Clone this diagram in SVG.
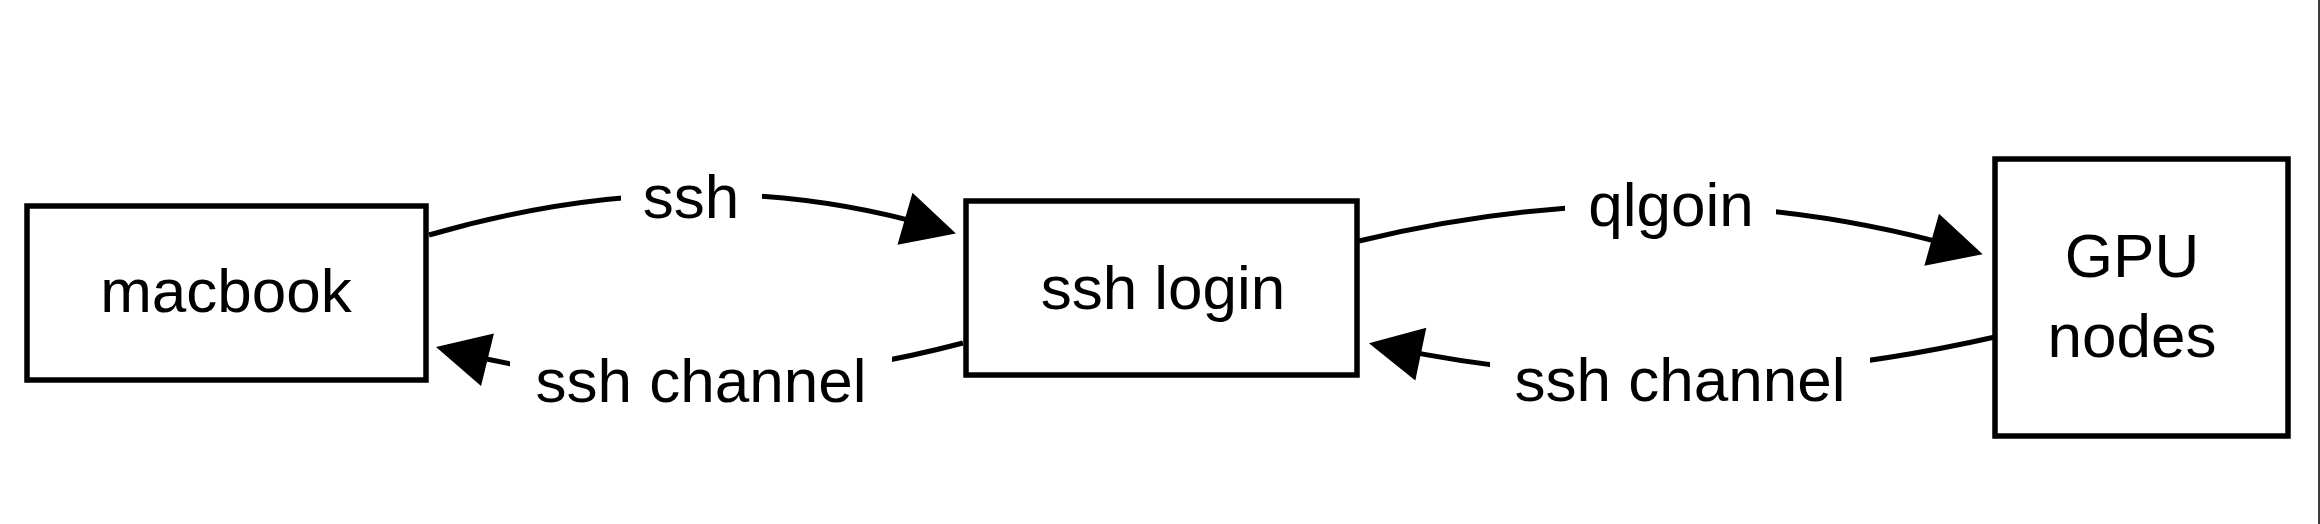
<svg xmlns="http://www.w3.org/2000/svg" width="2320" height="524" viewBox="0 0 2320 524">
  <style>
    .box { fill: #ffffff; stroke: #000000; stroke-width: 5.5; }
    .edge { fill: none; stroke: #000000; stroke-width: 5; }
    .lbl { font-family: "Liberation Sans", Arial, sans-serif; font-size: 62px; fill: #000000; text-anchor: middle; }
    .mask { fill: #ffffff; }
  </style>
  <defs>
    <marker id="arrow" markerUnits="userSpaceOnUse" markerWidth="58" markerHeight="58" viewBox="0 0 58 58" refX="30" refY="29" orient="auto" overflow="visible">
      <path d="M2,2 L55,29 L2,56 Z" fill="#000000"/>
    </marker>
  </defs>
  <rect x="0" y="0" width="2320" height="524" fill="#ffffff"/>
  <rect x="2318" y="0" width="2" height="524" fill="#3c3c3c"/>

  <g id="connectors">
    <g id="edge-ssh">
      <path class="edge" d="M429,235 Q695,158 931.9,226.5" marker-end="url(#arrow)"/>
      <rect class="mask" x="621" y="168" width="141" height="60"/>
      <text class="lbl" x="691" y="218">ssh</text>
    </g>
    <g id="edge-ssh-channel-1">
      <path class="edge" d="M963,343 Q700,412 460.3,353" marker-end="url(#arrow)"/>
      <rect class="mask" x="510" y="345" width="382" height="70"/>
      <text class="lbl" x="701" y="402">ssh channel</text>
    </g>
    <g id="edge-qlgoin">
      <path class="edge" d="M1359,241 Q1670,166 1958.6,247.4" marker-end="url(#arrow)"/>
      <rect class="mask" x="1565" y="172" width="211" height="70"/>
      <text class="lbl" x="1671" y="226">qlgoin</text>
    </g>
    <g id="edge-ssh-channel-2">
      <path class="edge" d="M1995,337 Q1681,408 1393.4,348.4" marker-end="url(#arrow)"/>
      <rect class="mask" x="1490" y="345" width="380" height="70"/>
      <text class="lbl" x="1680" y="401">ssh channel</text>
    </g>
  </g>

  <g id="node-macbook">
    <rect class="box" x="27" y="206" width="399" height="174"/>
    <text class="lbl" x="226" y="312">macbook</text>
  </g>
  <g id="node-ssh-login">
    <rect class="box" x="966" y="201" width="391" height="174"/>
    <text class="lbl" x="1163" y="309">ssh login</text>
  </g>
  <g id="node-gpu">
    <rect class="box" x="1995" y="159" width="293" height="277"/>
    <text class="lbl" x="2132" y="277">GPU</text>
    <text class="lbl" x="2132" y="357">nodes</text>
  </g>
</svg>
